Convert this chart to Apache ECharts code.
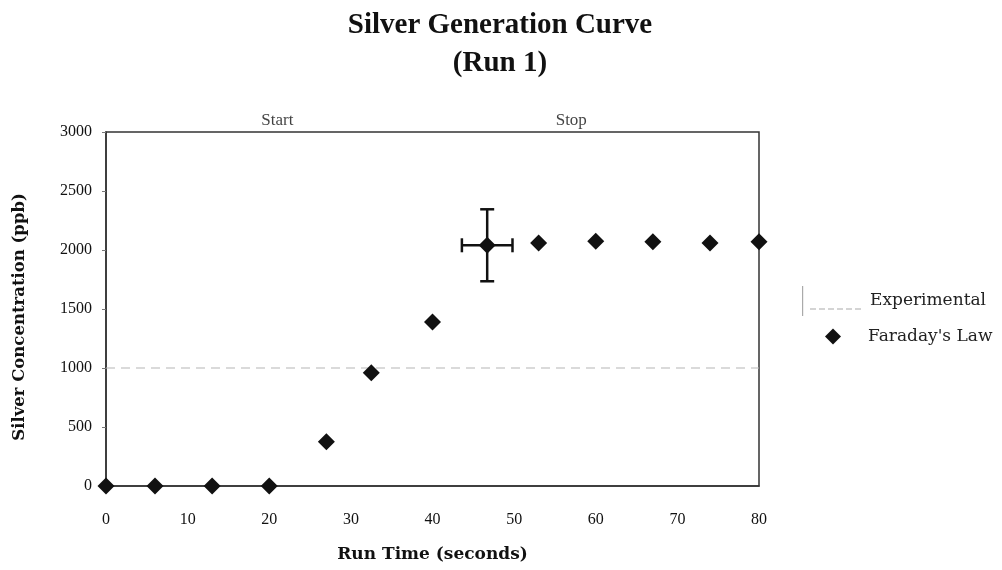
<!DOCTYPE html>
<html>
<head>
<meta charset="utf-8">
<script src="https://cdn.jsdelivr.net/npm/echarts@6/dist/echarts.min.js"></script>
<style>
  html, body { margin: 0; padding: 0; background: #fff; }
  #chart { width: 1002px; height: 570px; }
</style>
</head>
<body>
<div id="chart"></div>
<script>
// Run time (s) and measured silver concentration (ppb)
const runTime = [0, 6, 13, 20, 27, 32.5, 40, 46.7, 53, 60, 67, 74, 80];
const faraday = [0, 0, 0, 0, 375, 960, 1390, 2040, 2060, 2075, 2070, 2060, 2070];

// Experimental reference level
const expTime = [0, 80];
const expValue = [1000, 1000];

// Error bar on one reading: [x, y, xErr, yErr]
const errorBars = [[46.7, 2040, 3.1, 305]];

// Event markers along the top of the plot
const eventLabels = ['Start', 'Stop'];
const eventTimes = [21, 57];

const yTicks = [0, 500, 1000, 1500, 2000, 2500, 3000];
const xTicks = [0, 10, 20, 30, 40, 50, 60, 70, 80];

const serif = '"Liberation Serif", "DejaVu Serif", serif';
const wideSerif = '"DejaVu Serif", "Liberation Serif", serif';

const chart = echarts.init(document.getElementById('chart'));

chart.setOption({
  backgroundColor: '#fff',
  animation: false,
  textStyle: { fontFamily: serif, color: '#111' },
  title: {
    text: 'Silver Generation Curve\n(Run 1)',
    left: 495,
    textAlign: 'center',
    top: 2,
    textStyle: { fontFamily: serif, fontSize: 29, fontWeight: 'bold', color: '#111', lineHeight: 38 }
  },
  legend: [
    {
      orient: 'vertical',
      left: 797,
      top: 281,
      itemWidth: 63,
      itemHeight: 30,
      itemGap: 0,
      symbolKeepAspect: false,
      textStyle: { fontFamily: wideSerif, fontSize: 17, color: '#222' },
      data: [{
        name: 'Experimental',
        icon: 'path://M0,0 L1.2,0 L1.2,30 L0,30 Z M8,22.4 L14,22.4 L14,23.6 L8,23.6 Z M17,22.4 L23,22.4 L23,23.6 L17,23.6 Z M26,22.4 L32,22.4 L32,23.6 L26,23.6 Z M35,22.4 L41,22.4 L41,23.6 L35,23.6 Z M44,22.4 L50,22.4 L50,23.6 L44,23.6 Z M53,22.4 L59,22.4 L59,23.6 L53,23.6 Z M62,0 L63,0 L63,0.1 L62,0.1 Z'
      }]
    },
    {
      orient: 'vertical',
      left: 820,
      top: 323,
      itemWidth: 16,
      itemHeight: 16,
      textStyle: { fontFamily: wideSerif, fontSize: 17, color: '#222', padding: [0, 0, 0, 22] },
      data: [{ name: "Faraday's Law", icon: 'diamond' }]
    }
  ],
  grid: {
    left: 106, right: 243, top: 132, bottom: 84,
    containLabel: false,
    outerBoundsMode: 'none',
    show: true, borderColor: '#333', borderWidth: 1.5, backgroundColor: '#fff'
  },
  xAxis: {
    type: 'value',
    min: 0, max: 80, interval: 10,
    name: 'Run Time (seconds)',
    nameLocation: 'middle',
    nameGap: 60,
    nameTextStyle: { fontFamily: wideSerif, fontSize: 17, fontWeight: 'bold', color: '#111' },
    axisLine: { show: true, lineStyle: { color: '#333', width: 1.5 } },
    axisTick: { show: false },
    splitLine: { show: false },
    axisLabel: {
      fontFamily: serif, fontSize: 16, color: '#111', margin: 26,
      formatter: v => xTicks.includes(v) ? String(v) : ''
    }
  },
  yAxis: {
    type: 'value',
    min: 0, max: 3000, interval: 500,
    name: 'Silver Concentration (ppb)',
    nameLocation: 'middle',
    nameGap: 78,
    nameTextStyle: {
      fontFamily: wideSerif, fontSize: 16.5, fontWeight: 'bold', color: '#111',
      padding: [0, 16, 0, 0]
    },
    axisLine: { show: true, lineStyle: { color: '#333', width: 1.5 } },
    axisTick: { show: true, inside: false, length: 4, lineStyle: { color: '#777' } },
    splitLine: { show: false },
    axisLabel: {
      fontFamily: serif, fontSize: 16, color: '#111', margin: 14,
      formatter: v => yTicks.includes(v) ? String(v) : ''
    }
  },
  series: [
    {
      name: 'Experimental',
      type: 'line',
      data: expTime.map((t, i) => [t, expValue[i]]),
      symbol: 'none',
      lineStyle: { color: '#b5b5b5', width: 1.2, type: [9, 6] },
      itemStyle: { color: '#aaa' },
      z: 2
    },
    {
      name: 'error',
      type: 'custom',
      data: errorBars,
      renderItem: function (params, api) {
        const x = api.value(0), y = api.value(1), dx = api.value(2), dy = api.value(3);
        const top = api.coord([x, y + dy]);
        const bot = api.coord([x, y - dy]);
        const left = api.coord([x - dx, y]);
        const right = api.coord([x + dx, y]);
        const cap = 7;
        const style = { stroke: '#111', lineWidth: 2.5 };
        return {
          type: 'group',
          children: [
            { type: 'line', shape: { x1: top[0], y1: top[1], x2: bot[0], y2: bot[1] }, style },
            { type: 'line', shape: { x1: left[0], y1: left[1], x2: right[0], y2: right[1] }, style },
            { type: 'line', shape: { x1: top[0] - cap, y1: top[1], x2: top[0] + cap, y2: top[1] }, style },
            { type: 'line', shape: { x1: bot[0] - cap, y1: bot[1], x2: bot[0] + cap, y2: bot[1] }, style },
            { type: 'line', shape: { x1: left[0], y1: left[1] - cap, x2: left[0], y2: left[1] + cap }, style },
            { type: 'line', shape: { x1: right[0], y1: right[1] - cap, x2: right[0], y2: right[1] + cap }, style }
          ]
        };
      },
      z: 3
    },
    {
      name: "Faraday's Law",
      type: 'scatter',
      data: runTime.map((t, i) => [t, faraday[i]]),
      symbol: 'diamond',
      symbolSize: 17,
      itemStyle: { color: '#111', opacity: 1 },
      clip: false,
      z: 4
    },
    {
      name: 'events',
      type: 'scatter',
      data: eventTimes.map((t, i) => ({ value: [t, 3000], label: { formatter: eventLabels[i] } })),
      symbolSize: 0,
      clip: false,
      silent: true,
      label: {
        show: true, position: 'top', distance: 3,
        fontFamily: serif, fontSize: 17, color: '#111'
      }
    }
  ]
});
</script>
</body>
</html>
